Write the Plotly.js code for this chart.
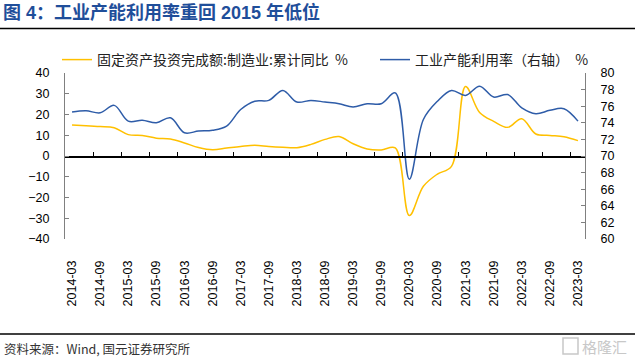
<!DOCTYPE html>
<html>
<head>
<meta charset="utf-8">
<script src="https://cdn.plot.ly/plotly-3.0.1.min.js"></script>
<style>html,body{margin:0;padding:0;background:#fff;}#chart{width:635px;height:360px;}</style>
</head>
<body>
<div id="chart"></div>
<script>
// Quarterly categories
const quarters = ["2014-03","2014-06","2014-09","2014-12","2015-03","2015-06","2015-09","2015-12",
  "2016-03","2016-06","2016-09","2016-12","2017-03","2017-06","2017-09","2017-12",
  "2018-03","2018-06","2018-09","2018-12","2019-03","2019-06","2019-09","2019-12",
  "2020-03","2020-06","2020-09","2020-12","2021-03","2021-06","2021-09","2021-12",
  "2022-03","2022-06","2022-09","2022-12","2023-03"];
// 固定资产投资完成额:制造业:累计同比 (%)
const faiMfg = [14.9,14.6,14.2,13.6,10.3,9.9,8.6,8.2,
  6.3,4.1,3.0,3.8,4.6,5.2,4.6,4.2,
  4.0,5.6,8.0,9.4,5.9,3.4,2.9,3.9,
  -28.7,-14.6,-8.7,-5.0,33.5,21.0,16.7,13.8,
  18.0,10.6,9.9,9.3,7.4];
// 工业产能利用率 (%)
const capUtil = [75.3,75.45,75.2,76.1,74.2,74.3,74.0,74.6,
  72.8,73.0,73.1,73.6,75.6,76.6,76.7,77.9,
  76.5,76.7,76.5,76.3,75.9,76.3,76.3,77.6,
  67.2,74.4,76.6,77.9,77.3,78.4,77.1,77.4,
  75.8,75.1,75.5,75.7,74.2];
const tickLabels = quarters.filter((q, i) => i % 2 === 0);
const seriesNames = ["固定资产投资完成额:制造业:累计同比  %", "工业产能利用率（右轴）  %"];

const W = 635, H = 360, L = 65, R = 50, T = 73, B = 121;
const pw = W - L - R, ph = H - T - B;
const px = x => (x - L) / pw;
const py = y => (H - B - y) / ph;

const idx = quarters.map((q, i) => i);
const tickIdx = idx.filter(i => i % 2 === 0);
const boundIdx = idx.filter(i => i % 2 === 1 && i < 36).map(i => i + 0.5);

const fontLat = 'Arial, "Liberation Sans", "Noto Sans CJK SC", sans-serif';
const fontCJK = '"Noto Sans CJK SC", sans-serif';

const traces = [
  {x: idx, y: faiMfg, name: seriesNames[0], type: 'scatter', mode: 'lines',
   line: {color: '#FFC000', width: 1.5, shape: 'spline', smoothing: 1}, xaxis: 'x', yaxis: 'y',
   legend: 'legend'},
  {x: idx, y: capUtil, name: seriesNames[1], type: 'scatter', mode: 'lines',
   line: {color: '#2E5CA8', width: 1.5, shape: 'spline', smoothing: 1}, xaxis: 'x2', yaxis: 'y2',
   legend: 'legend2'}
];

const legendFont = {family: fontCJK, size: 14, color: '#222'};

const layout = {
  width: W, height: H,
  margin: {l: L, r: R, t: T, b: B, pad: 0},
  paper_bgcolor: '#fff', plot_bgcolor: '#fff',
  showlegend: true,
  title: {text: '<b>图 4：工业产能利用率重回 2015 年低位</b>', xref: 'container', yref: 'container',
          x: 3 / W, xanchor: 'left', y: 1 - 13 / H, yanchor: 'middle',
          font: {family: fontLat, size: 18, color: '#1F4E9A'}},
  legend: {orientation: 'h', x: px(57), xanchor: 'left', y: py(60), yanchor: 'middle',
           font: legendFont, bgcolor: 'rgba(0,0,0,0)'},
  legend2: {orientation: 'h', x: px(375), xanchor: 'left', y: py(60), yanchor: 'middle',
            font: legendFont, bgcolor: 'rgba(0,0,0,0)'},
  xaxis: {range: [-0.5, 36.5], tickmode: 'array', tickvals: tickIdx, ticktext: tickLabels,
          tickangle: -90, ticks: '', showline: false, showgrid: false, zeroline: false,
          tickfont: {family: fontLat, size: 12.5, color: '#000'}, ticklabelstandoff: 18,
          fixedrange: true},
  xaxis2: {range: [-0.5, 36.5], overlaying: 'x', anchor: 'free', position: 0.5,
           tickmode: 'array', tickvals: boundIdx, ticks: 'inside', ticklen: 4, tickcolor: '#000',
           tickwidth: 1, showticklabels: false, showline: true, linecolor: '#000', linewidth: 1.5,
           showgrid: false, zeroline: false},
  yaxis: {range: [-40, 40], dtick: 10, tick0: 0, ticks: 'inside', ticklen: 4, tickcolor: '#808080',
          showline: true, linecolor: '#808080', linewidth: 1, showgrid: false, zeroline: false,
          tickfont: {family: fontLat, size: 12.5, color: '#000'}, ticklabelstandoff: 12},
  yaxis2: {range: [60, 80], dtick: 2, tick0: 60, overlaying: 'y', side: 'right', anchor: 'x',
           ticks: 'inside', ticklen: 4, tickcolor: '#808080', showline: true, linecolor: '#808080',
           linewidth: 1, showgrid: false, zeroline: false,
           tickfont: {family: fontLat, size: 12.5, color: '#000'}, ticklabelstandoff: 12},
  shapes: [
    {type: 'line', xref: 'paper', yref: 'paper', x0: px(0), x1: px(635), y0: py(28.5), y1: py(28.5),
     line: {color: '#000', width: 1.5}},
    {type: 'line', xref: 'paper', yref: 'paper', x0: px(0), x1: px(635), y0: py(334), y1: py(334),
     line: {color: '#000', width: 1.5}},
    {type: 'rect', xref: 'paper', yref: 'paper', x0: px(563), x1: px(578), y0: py(338), y1: py(354),
     line: {color: '#c8c8c8', width: 1.5}}
  ],
  annotations: [
    {text: '资料来源：Wind, 国元证券研究所', xref: 'paper', yref: 'paper', x: px(2), y: py(348),
     xanchor: 'left', yanchor: 'middle', showarrow: false,
     font: {family: fontCJK, size: 12.5, color: '#333'}},
    {text: '格隆汇', xref: 'paper', yref: 'paper', x: px(580), y: py(346),
     xanchor: 'left', yanchor: 'middle', showarrow: false,
     font: {family: fontCJK, size: 15, color: '#c8c8c8'}}
  ]
};

Plotly.newPlot('chart', traces, layout, {staticPlot: true, displayModeBar: false});
</script>
</body>
</html>
